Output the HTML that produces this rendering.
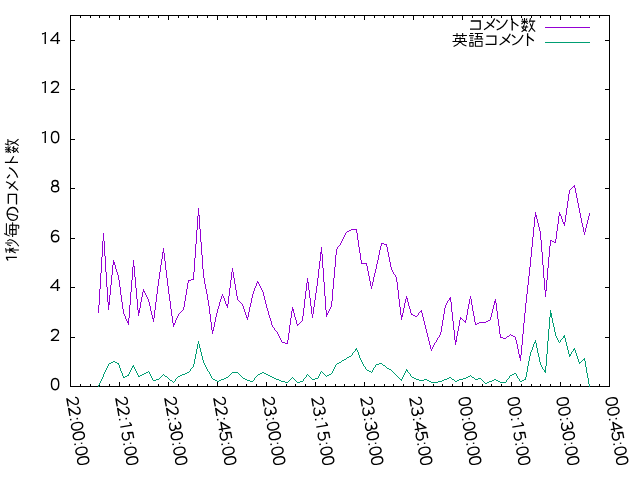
<!DOCTYPE html>
<html><head><meta charset="utf-8"><title>plot</title>
<style>
html,body{margin:0;padding:0;background:#fff;}
body{width:640px;height:480px;overflow:hidden;font-family:"Liberation Sans",sans-serif;}
svg{display:block;will-change:transform;}
text{font-family:"Liberation Sans",sans-serif;fill:#000;}
</style></head><body>
<svg width="640" height="480" viewBox="0 0 640 480">
<rect x="0" y="0" width="640" height="480" fill="#ffffff"/>

<g shape-rendering="crispEdges" stroke="#000" stroke-width="1" fill="none">
<rect x="70.5" y="15.5" width="539" height="371"/>
<path d="M80.5,387V384 M80.5,15V18 M90.5,387V384 M90.5,15V18 M99.5,387V384 M99.5,15V18 M109.5,387V384 M109.5,15V18 M119.5,387V382 M119.5,15V20 M129.5,387V384 M129.5,15V18 M139.5,387V384 M139.5,15V18 M148.5,387V384 M148.5,15V18 M158.5,387V384 M158.5,15V18 M168.5,387V382 M168.5,15V20 M178.5,387V384 M178.5,15V18 M188.5,387V384 M188.5,15V18 M197.5,387V384 M197.5,15V18 M207.5,387V384 M207.5,15V18 M217.5,387V382 M217.5,15V20 M227.5,387V384 M227.5,15V18 M237.5,387V384 M237.5,15V18 M246.5,387V384 M246.5,15V18 M256.5,387V384 M256.5,15V18 M266.5,387V382 M266.5,15V20 M276.5,387V384 M276.5,15V18 M286.5,387V384 M286.5,15V18 M295.5,387V384 M295.5,15V18 M305.5,387V384 M305.5,15V18 M315.5,387V382 M315.5,15V20 M325.5,387V384 M325.5,15V18 M335.5,387V384 M335.5,15V18 M344.5,387V384 M344.5,15V18 M354.5,387V384 M354.5,15V18 M364.5,387V382 M364.5,15V20 M374.5,387V384 M374.5,15V18 M384.5,387V384 M384.5,15V18 M393.5,387V384 M393.5,15V18 M403.5,387V384 M403.5,15V18 M413.5,387V382 M413.5,15V20 M423.5,387V384 M423.5,15V18 M433.5,387V384 M433.5,15V18 M442.5,387V384 M442.5,15V18 M452.5,387V384 M452.5,15V18 M462.5,387V382 M462.5,15V20 M472.5,387V384 M472.5,15V18 M482.5,387V384 M482.5,15V18 M491.5,387V384 M491.5,15V18 M501.5,387V384 M501.5,15V18 M511.5,387V382 M511.5,15V20 M521.5,387V384 M521.5,15V18 M531.5,387V384 M531.5,15V18 M540.5,387V384 M540.5,15V18 M550.5,387V384 M550.5,15V18 M560.5,387V382 M560.5,15V20 M570.5,387V384 M570.5,15V18 M580.5,387V384 M580.5,15V18 M589.5,387V384 M589.5,15V18 M599.5,387V384 M599.5,15V18 M70,337.5H75 M610,337.5H605 M70,287.5H75 M610,287.5H605 M70,238.5H75 M610,238.5H605 M70,188.5H75 M610,188.5H605 M70,139.5H75 M610,139.5H605 M70,89.5H75 M610,89.5H605 M70,40.5H75 M610,40.5H605"/>
</g>
<g shape-rendering="crispEdges" fill="none" stroke-width="1">
<path stroke="none" fill="#9400d3" d="M98 305h1v8h-1zM99 289h1v16h-1zM100 273h1v16h-1zM101 257h1v16h-1zM102 241h1v16h-1zM103 233h1v8h-1zM104 241h1v15h-1zM105 256h1v16h-1zM106 272h1v15h-1zM107 287h1v15h-1zM108 302h1v8h-1zM109 295h1v10h-1zM110 285h1v10h-1zM111 275h1v10h-1zM112 265h1v10h-1zM113 260h1v5h-1zM114 262h1v3h-1zM115 265h1v4h-1zM116 269h1v3h-1zM117 272h1v3h-1zM118 275h1v5h-1zM119 280h1v7h-1zM120 287h1v8h-1zM121 295h1v7h-1zM122 302h1v7h-1zM123 309h1v5h-1zM124 314h1v2h-1zM125 316h1v3h-1zM126 319h1v2h-1zM127 321h1v2h-1zM128 318h1v7h-1zM129 305h1v13h-1zM130 292h1v13h-1zM131 280h1v12h-1zM132 267h1v13h-1zM133 260h1v7h-1zM134 266h1v11h-1zM135 277h1v11h-1zM136 288h1v11h-1zM137 299h1v11h-1zM138 310h1v6h-1zM139 308h1v5h-1zM140 302h1v6h-1zM141 297h1v5h-1zM142 292h1v5h-1zM143 289h1v3h-1zM144 291h1v2h-1zM145 293h1v2h-1zM146 295h1v2h-1zM147 297h1v2h-1zM148 299h1v3h-1zM149 302h1v4h-1zM150 306h1v5h-1zM151 311h1v4h-1zM152 315h1v4h-1zM153 318h1v4h-1zM154 310h1v8h-1zM155 302h1v8h-1zM156 294h1v8h-1zM157 286h1v8h-1zM158 279h1v7h-1zM159 272h1v7h-1zM160 265h1v7h-1zM161 259h1v6h-1zM162 252h1v7h-1zM163 248h1v5h-1zM164 253h1v8h-1zM165 261h1v9h-1zM166 270h1v8h-1zM167 278h1v8h-1zM168 286h1v8h-1zM169 294h1v7h-1zM170 301h1v8h-1zM171 309h1v7h-1zM172 316h1v7h-1zM173 323h1v4h-1zM174 323h1v2h-1zM175 320h1v3h-1zM176 318h1v2h-1zM177 316h1v2h-1zM178 314h1v2h-1zM179 313h1v1h-1zM180 312h1v1h-1zM181 311h1v1h-1zM182 310h1v1h-1zM183 307h1v3h-1zM184 301h1v6h-1zM185 295h1v6h-1zM186 289h1v6h-1zM187 283h1v6h-1zM188 280h1v3h-1zM189 280h1v1h-1zM190 280h1v1h-1zM191 279h1v1h-1zM192 279h1v1h-1zM193 272h1v8h-1zM194 258h1v14h-1zM195 244h1v14h-1zM196 230h1v14h-1zM197 216h1v14h-1zM198 208h1v8h-1zM199 215h1v14h-1zM200 229h1v13h-1zM201 242h1v13h-1zM202 255h1v14h-1zM203 269h1v9h-1zM204 278h1v6h-1zM205 284h1v5h-1zM206 289h1v5h-1zM207 294h1v6h-1zM208 300h1v6h-1zM209 306h1v8h-1zM210 314h1v8h-1zM211 322h1v8h-1zM212 330h1v4h-1zM213 327h1v4h-1zM214 322h1v5h-1zM215 317h1v5h-1zM216 313h1v4h-1zM217 309h1v4h-1zM218 306h1v3h-1zM219 302h1v4h-1zM220 299h1v3h-1zM221 296h1v3h-1zM222 294h1v2h-1zM223 296h1v2h-1zM224 298h1v3h-1zM225 301h1v3h-1zM226 304h1v2h-1zM227 304h1v4h-1zM228 296h1v8h-1zM229 288h1v8h-1zM230 280h1v8h-1zM231 272h1v8h-1zM232 268h1v4h-1zM233 272h1v6h-1zM234 278h1v6h-1zM235 284h1v6h-1zM236 290h1v6h-1zM237 296h1v4h-1zM238 300h1v1h-1zM239 301h1v1h-1zM240 302h1v1h-1zM241 303h1v1h-1zM242 304h1v2h-1zM243 306h1v3h-1zM244 309h1v3h-1zM245 312h1v3h-1zM246 315h1v3h-1zM247 317h1v3h-1zM248 312h1v5h-1zM249 307h1v5h-1zM250 303h1v4h-1zM251 298h1v5h-1zM252 294h1v4h-1zM253 291h1v3h-1zM254 288h1v3h-1zM255 286h1v2h-1zM256 283h1v3h-1zM257 281h1v2h-1zM258 282h1v2h-1zM259 284h1v2h-1zM260 286h1v2h-1zM261 288h1v2h-1zM262 290h1v2h-1zM263 292h1v4h-1zM264 296h1v4h-1zM265 300h1v4h-1zM266 304h1v4h-1zM267 308h1v3h-1zM268 311h1v4h-1zM269 315h1v3h-1zM270 318h1v3h-1zM271 321h1v4h-1zM272 325h1v2h-1zM273 327h1v1h-1zM274 328h1v2h-1zM275 330h1v1h-1zM276 331h1v1h-1zM277 332h1v2h-1zM278 334h1v2h-1zM279 336h1v2h-1zM280 338h1v2h-1zM281 340h1v2h-1zM282 342h1v1h-1zM283 342h1v1h-1zM284 342h1v1h-1zM285 343h1v1h-1zM286 343h1v1h-1zM287 340h1v4h-1zM288 333h1v7h-1zM289 325h1v8h-1zM290 318h1v7h-1zM291 311h1v7h-1zM292 307h1v4h-1zM293 309h1v4h-1zM294 313h1v4h-1zM295 317h1v3h-1zM296 320h1v4h-1zM297 324h1v2h-1zM298 324h1v1h-1zM299 323h1v1h-1zM300 322h1v1h-1zM301 321h1v1h-1zM302 316h1v5h-1zM303 308h1v8h-1zM304 299h1v9h-1zM305 291h1v8h-1zM306 283h1v8h-1zM307 278h1v5h-1zM308 282h1v8h-1zM309 290h1v8h-1zM310 298h1v8h-1zM311 306h1v8h-1zM312 314h1v4h-1zM313 307h1v7h-1zM314 300h1v7h-1zM315 293h1v7h-1zM316 286h1v7h-1zM317 278h1v8h-1zM318 269h1v9h-1zM319 261h1v8h-1zM320 252h1v9h-1zM321 247h1v7h-1zM322 254h1v14h-1zM323 268h1v14h-1zM324 282h1v14h-1zM325 296h1v14h-1zM326 310h1v7h-1zM327 313h1v2h-1zM328 311h1v2h-1zM329 309h1v2h-1zM330 307h1v2h-1zM331 301h1v6h-1zM332 289h1v12h-1zM333 278h1v11h-1zM334 267h1v11h-1zM335 255h1v12h-1zM336 249h1v6h-1zM337 247h1v2h-1zM338 246h1v1h-1zM339 245h1v1h-1zM340 243h1v2h-1zM341 241h1v2h-1zM342 239h1v2h-1zM343 237h1v2h-1zM344 235h1v2h-1zM345 233h1v2h-1zM346 232h1v1h-1zM347 231h1v1h-1zM348 231h1v1h-1zM349 230h1v1h-1zM350 230h1v1h-1zM351 229h1v1h-1zM352 229h1v1h-1zM353 229h1v1h-1zM354 229h1v1h-1zM355 229h1v1h-1zM356 229h1v4h-1zM357 233h1v7h-1zM358 240h1v7h-1zM359 247h1v6h-1zM360 253h1v7h-1zM361 260h1v4h-1zM362 263h1v1h-1zM363 263h1v1h-1zM364 263h1v1h-1zM365 263h1v1h-1zM366 263h1v3h-1zM367 266h1v5h-1zM368 271h1v5h-1zM369 276h1v5h-1zM370 281h1v5h-1zM371 286h1v3h-1zM372 282h1v4h-1zM373 277h1v5h-1zM374 273h1v4h-1zM375 269h1v4h-1zM376 264h1v5h-1zM377 260h1v4h-1zM378 255h1v5h-1zM379 250h1v5h-1zM380 246h1v4h-1zM381 243h1v3h-1zM382 243h1v1h-1zM383 243h1v1h-1zM384 244h1v1h-1zM385 244h1v1h-1zM386 244h1v3h-1zM387 247h1v5h-1zM388 252h1v5h-1zM389 257h1v5h-1zM390 262h1v5h-1zM391 267h1v3h-1zM392 270h1v2h-1zM393 272h1v2h-1zM394 274h1v1h-1zM395 275h1v2h-1zM396 277h1v5h-1zM397 282h1v8h-1zM398 290h1v9h-1zM399 299h1v8h-1zM400 307h1v8h-1zM401 315h1v5h-1zM402 313h1v4h-1zM403 308h1v5h-1zM404 303h1v5h-1zM405 299h1v4h-1zM406 296h1v3h-1zM407 298h1v4h-1zM408 302h1v4h-1zM409 306h1v3h-1zM410 309h1v4h-1zM411 313h1v2h-1zM412 314h1v1h-1zM413 315h1v1h-1zM414 315h1v1h-1zM415 316h1v1h-1zM416 316h1v1h-1zM417 315h1v1h-1zM418 313h1v2h-1zM419 312h1v1h-1zM420 311h1v1h-1zM421 310h1v3h-1zM422 313h1v4h-1zM423 317h1v4h-1zM424 321h1v4h-1zM425 325h1v4h-1zM426 329h1v4h-1zM427 333h1v4h-1zM428 337h1v4h-1zM429 341h1v4h-1zM430 345h1v4h-1zM431 349h1v2h-1zM432 347h1v2h-1zM433 345h1v2h-1zM434 343h1v2h-1zM435 342h1v1h-1zM436 340h1v2h-1zM437 338h1v2h-1zM438 337h1v1h-1zM439 335h1v2h-1zM440 332h1v3h-1zM441 326h1v6h-1zM442 320h1v6h-1zM443 314h1v6h-1zM444 308h1v6h-1zM445 305h1v3h-1zM446 303h1v2h-1zM447 301h1v2h-1zM448 300h1v1h-1zM449 298h1v2h-1zM450 297h1v5h-1zM451 302h1v10h-1zM452 312h1v9h-1zM453 321h1v9h-1zM454 330h1v10h-1zM455 340h1v5h-1zM456 336h1v6h-1zM457 331h1v5h-1zM458 326h1v5h-1zM459 320h1v6h-1zM460 317h1v3h-1zM461 318h1v1h-1zM462 319h1v1h-1zM463 320h1v1h-1zM464 321h1v1h-1zM465 320h1v3h-1zM466 315h1v5h-1zM467 309h1v6h-1zM468 304h1v5h-1zM469 299h1v5h-1zM470 296h1v3h-1zM471 299h1v6h-1zM472 305h1v6h-1zM473 311h1v5h-1zM474 316h1v6h-1zM475 322h1v3h-1zM476 324h1v1h-1zM477 323h1v1h-1zM478 323h1v1h-1zM479 322h1v1h-1zM480 322h1v1h-1zM481 322h1v1h-1zM482 322h1v1h-1zM483 322h1v1h-1zM484 322h1v1h-1zM485 322h1v1h-1zM486 321h1v1h-1zM487 321h1v1h-1zM488 320h1v1h-1zM489 320h1v1h-1zM490 317h1v3h-1zM491 313h1v4h-1zM492 309h1v4h-1zM493 305h1v4h-1zM494 301h1v4h-1zM495 299h1v4h-1zM496 303h1v8h-1zM497 311h1v8h-1zM498 319h1v7h-1zM499 326h1v8h-1zM500 334h1v4h-1zM501 337h1v1h-1zM502 337h1v1h-1zM503 338h1v1h-1zM504 338h1v1h-1zM505 338h1v1h-1zM506 337h1v1h-1zM507 336h1v1h-1zM508 336h1v1h-1zM509 335h1v1h-1zM510 334h1v1h-1zM511 335h1v1h-1zM512 335h1v1h-1zM513 336h1v1h-1zM514 336h1v1h-1zM515 337h1v3h-1zM516 340h1v4h-1zM517 344h1v5h-1zM518 349h1v5h-1zM519 354h1v4h-1zM520 355h1v6h-1zM521 345h1v10h-1zM522 334h1v11h-1zM523 323h1v11h-1zM524 313h1v10h-1zM525 303h1v10h-1zM526 294h1v9h-1zM527 285h1v9h-1zM528 276h1v9h-1zM529 267h1v9h-1zM530 257h1v10h-1zM531 247h1v10h-1zM532 237h1v10h-1zM533 227h1v10h-1zM534 217h1v10h-1zM535 212h1v5h-1zM536 215h1v4h-1zM537 219h1v4h-1zM538 223h1v4h-1zM539 227h1v4h-1zM540 231h1v9h-1zM541 240h1v12h-1zM542 252h1v13h-1zM543 265h1v13h-1zM544 278h1v12h-1zM545 290h1v7h-1zM546 280h1v11h-1zM547 268h1v12h-1zM548 257h1v11h-1zM549 246h1v11h-1zM550 240h1v6h-1zM551 240h1v1h-1zM552 241h1v1h-1zM553 241h1v1h-1zM554 242h1v1h-1zM555 239h1v4h-1zM556 231h1v8h-1zM557 224h1v7h-1zM558 216h1v8h-1zM559 212h1v4h-1zM560 214h1v2h-1zM561 216h1v3h-1zM562 219h1v3h-1zM563 222h1v2h-1zM564 222h1v4h-1zM565 215h1v7h-1zM566 208h1v7h-1zM567 201h1v7h-1zM568 194h1v7h-1zM569 190h1v4h-1zM570 189h1v1h-1zM571 188h1v1h-1zM572 187h1v1h-1zM573 186h1v1h-1zM574 185h1v3h-1zM575 188h1v5h-1zM576 193h1v5h-1zM577 198h1v5h-1zM578 203h1v5h-1zM579 208h1v5h-1zM580 213h1v5h-1zM581 218h1v5h-1zM582 223h1v4h-1zM583 227h1v5h-1zM584 232h1v3h-1zM585 228h1v4h-1zM586 224h1v4h-1zM587 220h1v4h-1zM588 216h1v4h-1zM589 213h1v3h-1z"/>
<path stroke="none" fill="#009e73" d="M98 385h1v2h-1zM99 383h1v2h-1zM100 381h1v2h-1zM101 379h1v2h-1zM102 377h1v2h-1zM103 374h1v3h-1zM104 372h1v2h-1zM105 370h1v2h-1zM106 368h1v2h-1zM107 366h1v2h-1zM108 364h1v2h-1zM109 363h1v1h-1zM110 363h1v1h-1zM111 362h1v1h-1zM112 362h1v1h-1zM113 361h1v1h-1zM114 361h1v1h-1zM115 362h1v1h-1zM116 362h1v1h-1zM117 363h1v1h-1zM118 363h1v2h-1zM119 365h1v3h-1zM120 368h1v3h-1zM121 371h1v2h-1zM122 373h1v3h-1zM123 376h1v2h-1zM124 377h1v1h-1zM125 376h1v1h-1zM126 376h1v1h-1zM127 375h1v1h-1zM128 374h1v2h-1zM129 372h1v2h-1zM130 370h1v2h-1zM131 368h1v2h-1zM132 366h1v2h-1zM133 365h1v2h-1zM134 367h1v2h-1zM135 369h1v2h-1zM136 371h1v2h-1zM137 373h1v2h-1zM138 375h1v2h-1zM139 376h1v1h-1zM140 375h1v1h-1zM141 375h1v1h-1zM142 374h1v1h-1zM143 374h1v1h-1zM144 373h1v1h-1zM145 373h1v1h-1zM146 372h1v1h-1zM147 372h1v1h-1zM148 371h1v1h-1zM149 372h1v2h-1zM150 374h1v2h-1zM151 376h1v2h-1zM152 378h1v2h-1zM153 380h1v1h-1zM154 380h1v1h-1zM155 380h1v1h-1zM156 379h1v1h-1zM157 379h1v1h-1zM158 379h1v1h-1zM159 378h1v1h-1zM160 377h1v1h-1zM161 376h1v1h-1zM162 375h1v1h-1zM163 374h1v1h-1zM164 375h1v1h-1zM165 376h1v1h-1zM166 376h1v1h-1zM167 377h1v1h-1zM168 378h1v1h-1zM169 379h1v1h-1zM170 380h1v1h-1zM171 380h1v1h-1zM172 381h1v1h-1zM173 382h1v1h-1zM174 381h1v1h-1zM175 379h1v2h-1zM176 378h1v1h-1zM177 377h1v1h-1zM178 376h1v1h-1zM179 376h1v1h-1zM180 375h1v1h-1zM181 375h1v1h-1zM182 374h1v1h-1zM183 374h1v1h-1zM184 374h1v1h-1zM185 373h1v1h-1zM186 373h1v1h-1zM187 372h1v1h-1zM188 372h1v1h-1zM189 371h1v1h-1zM190 369h1v2h-1zM191 368h1v1h-1zM192 367h1v1h-1zM193 364h1v3h-1zM194 359h1v5h-1zM195 354h1v5h-1zM196 349h1v5h-1zM197 344h1v5h-1zM198 341h1v3h-1zM199 344h1v4h-1zM200 348h1v4h-1zM201 352h1v4h-1zM202 356h1v4h-1zM203 360h1v3h-1zM204 363h1v2h-1zM205 365h1v2h-1zM206 367h1v2h-1zM207 369h1v2h-1zM208 371h1v1h-1zM209 372h1v2h-1zM210 374h1v2h-1zM211 376h1v2h-1zM212 378h1v1h-1zM213 379h1v1h-1zM214 379h1v1h-1zM215 380h1v1h-1zM216 380h1v1h-1zM217 381h1v1h-1zM218 381h1v1h-1zM219 380h1v1h-1zM220 380h1v1h-1zM221 379h1v1h-1zM222 379h1v1h-1zM223 379h1v1h-1zM224 378h1v1h-1zM225 378h1v1h-1zM226 377h1v1h-1zM227 377h1v1h-1zM228 376h1v1h-1zM229 375h1v1h-1zM230 374h1v1h-1zM231 373h1v1h-1zM232 372h1v1h-1zM233 372h1v1h-1zM234 372h1v1h-1zM235 372h1v1h-1zM236 372h1v1h-1zM237 372h1v1h-1zM238 373h1v1h-1zM239 374h1v1h-1zM240 375h1v1h-1zM241 376h1v1h-1zM242 377h1v1h-1zM243 378h1v1h-1zM244 378h1v1h-1zM245 379h1v1h-1zM246 379h1v1h-1zM247 380h1v1h-1zM248 380h1v1h-1zM249 380h1v1h-1zM250 381h1v1h-1zM251 381h1v1h-1zM252 381h1v1h-1zM253 380h1v1h-1zM254 378h1v2h-1zM255 377h1v1h-1zM256 376h1v1h-1zM257 375h1v1h-1zM258 374h1v1h-1zM259 374h1v1h-1zM260 373h1v1h-1zM261 373h1v1h-1zM262 372h1v1h-1zM263 372h1v1h-1zM264 373h1v1h-1zM265 373h1v1h-1zM266 374h1v1h-1zM267 374h1v1h-1zM268 375h1v1h-1zM269 375h1v1h-1zM270 376h1v1h-1zM271 376h1v1h-1zM272 377h1v1h-1zM273 377h1v1h-1zM274 378h1v1h-1zM275 378h1v1h-1zM276 379h1v1h-1zM277 379h1v1h-1zM278 379h1v1h-1zM279 380h1v1h-1zM280 380h1v1h-1zM281 381h1v1h-1zM282 381h1v1h-1zM283 381h1v1h-1zM284 381h1v1h-1zM285 382h1v1h-1zM286 382h1v1h-1zM287 382h1v1h-1zM288 381h1v1h-1zM289 380h1v1h-1zM290 379h1v1h-1zM291 378h1v1h-1zM292 377h1v1h-1zM293 378h1v1h-1zM294 379h1v1h-1zM295 380h1v1h-1zM296 381h1v1h-1zM297 382h1v1h-1zM298 382h1v1h-1zM299 382h1v1h-1zM300 381h1v1h-1zM301 381h1v1h-1zM302 381h1v1h-1zM303 379h1v2h-1zM304 378h1v1h-1zM305 377h1v1h-1zM306 375h1v2h-1zM307 374h1v1h-1zM308 375h1v1h-1zM309 376h1v1h-1zM310 377h1v1h-1zM311 378h1v1h-1zM312 379h1v1h-1zM313 379h1v1h-1zM314 379h1v1h-1zM315 378h1v1h-1zM316 378h1v1h-1zM317 378h1v1h-1zM318 376h1v2h-1zM319 374h1v2h-1zM320 372h1v2h-1zM321 371h1v1h-1zM322 372h1v1h-1zM323 373h1v1h-1zM324 374h1v1h-1zM325 375h1v1h-1zM326 376h1v1h-1zM327 375h1v1h-1zM328 375h1v1h-1zM329 374h1v1h-1zM330 374h1v1h-1zM331 373h1v1h-1zM332 371h1v2h-1zM333 369h1v2h-1zM334 367h1v2h-1zM335 365h1v2h-1zM336 364h1v1h-1zM337 363h1v1h-1zM338 363h1v1h-1zM339 362h1v1h-1zM340 362h1v1h-1zM341 361h1v1h-1zM342 360h1v1h-1zM343 360h1v1h-1zM344 359h1v1h-1zM345 359h1v1h-1zM346 358h1v1h-1zM347 357h1v1h-1zM348 357h1v1h-1zM349 356h1v1h-1zM350 356h1v1h-1zM351 355h1v1h-1zM352 353h1v2h-1zM353 352h1v1h-1zM354 351h1v1h-1zM355 349h1v2h-1zM356 348h1v2h-1zM357 350h1v2h-1zM358 352h1v3h-1zM359 355h1v3h-1zM360 358h1v2h-1zM361 360h1v2h-1zM362 362h1v2h-1zM363 364h1v2h-1zM364 366h1v1h-1zM365 367h1v2h-1zM366 369h1v1h-1zM367 370h1v1h-1zM368 370h1v1h-1zM369 371h1v1h-1zM370 371h1v1h-1zM371 372h1v1h-1zM372 370h1v2h-1zM373 368h1v2h-1zM374 367h1v1h-1zM375 365h1v2h-1zM376 364h1v1h-1zM377 364h1v1h-1zM378 364h1v1h-1zM379 363h1v1h-1zM380 363h1v1h-1zM381 363h1v1h-1zM382 364h1v1h-1zM383 365h1v1h-1zM384 365h1v1h-1zM385 366h1v1h-1zM386 367h1v1h-1zM387 368h1v1h-1zM388 368h1v1h-1zM389 369h1v1h-1zM390 369h1v1h-1zM391 370h1v1h-1zM392 371h1v1h-1zM393 372h1v1h-1zM394 373h1v1h-1zM395 374h1v1h-1zM396 375h1v1h-1zM397 376h1v1h-1zM398 377h1v1h-1zM399 378h1v1h-1zM400 379h1v1h-1zM401 379h1v2h-1zM402 377h1v2h-1zM403 375h1v2h-1zM404 373h1v2h-1zM405 371h1v2h-1zM406 369h1v2h-1zM407 370h1v2h-1zM408 372h1v1h-1zM409 373h1v1h-1zM410 374h1v2h-1zM411 376h1v1h-1zM412 377h1v1h-1zM413 377h1v1h-1zM414 378h1v1h-1zM415 378h1v1h-1zM416 379h1v1h-1zM417 379h1v1h-1zM418 379h1v1h-1zM419 380h1v1h-1zM420 380h1v1h-1zM421 380h1v1h-1zM422 380h1v1h-1zM423 380h1v1h-1zM424 379h1v1h-1zM425 379h1v1h-1zM426 379h1v1h-1zM427 380h1v1h-1zM428 380h1v1h-1zM429 381h1v1h-1zM430 381h1v1h-1zM431 382h1v1h-1zM432 382h1v1h-1zM433 382h1v1h-1zM434 382h1v1h-1zM435 382h1v1h-1zM436 382h1v1h-1zM437 382h1v1h-1zM438 381h1v1h-1zM439 381h1v1h-1zM440 381h1v1h-1zM441 381h1v1h-1zM442 380h1v1h-1zM443 380h1v1h-1zM444 379h1v1h-1zM445 379h1v1h-1zM446 379h1v1h-1zM447 378h1v1h-1zM448 378h1v1h-1zM449 377h1v1h-1zM450 377h1v1h-1zM451 378h1v1h-1zM452 379h1v1h-1zM453 379h1v1h-1zM454 380h1v1h-1zM455 381h1v1h-1zM456 381h1v1h-1zM457 380h1v1h-1zM458 380h1v1h-1zM459 379h1v1h-1zM460 379h1v1h-1zM461 379h1v1h-1zM462 379h1v1h-1zM463 378h1v1h-1zM464 378h1v1h-1zM465 378h1v1h-1zM466 377h1v1h-1zM467 377h1v1h-1zM468 376h1v1h-1zM469 376h1v1h-1zM470 375h1v1h-1zM471 376h1v1h-1zM472 377h1v1h-1zM473 377h1v1h-1zM474 378h1v1h-1zM475 379h1v1h-1zM476 379h1v1h-1zM477 379h1v1h-1zM478 378h1v1h-1zM479 378h1v1h-1zM480 378h1v1h-1zM481 379h1v1h-1zM482 380h1v1h-1zM483 381h1v1h-1zM484 382h1v1h-1zM485 383h1v1h-1zM486 383h1v1h-1zM487 382h1v1h-1zM488 382h1v1h-1zM489 381h1v1h-1zM490 381h1v1h-1zM491 381h1v1h-1zM492 380h1v1h-1zM493 380h1v1h-1zM494 379h1v1h-1zM495 379h1v1h-1zM496 380h1v1h-1zM497 380h1v1h-1zM498 381h1v1h-1zM499 381h1v1h-1zM500 382h1v1h-1zM501 382h1v1h-1zM502 382h1v1h-1zM503 382h1v1h-1zM504 382h1v1h-1zM505 382h1v1h-1zM506 380h1v2h-1zM507 379h1v1h-1zM508 378h1v1h-1zM509 376h1v2h-1zM510 375h1v1h-1zM511 375h1v1h-1zM512 374h1v1h-1zM513 374h1v1h-1zM514 373h1v1h-1zM515 373h1v1h-1zM516 374h1v2h-1zM517 376h1v2h-1zM518 378h1v1h-1zM519 379h1v2h-1zM520 381h1v1h-1zM521 381h1v1h-1zM522 380h1v1h-1zM523 380h1v1h-1zM524 379h1v1h-1zM525 377h1v3h-1zM526 372h1v5h-1zM527 366h1v6h-1zM528 361h1v5h-1zM529 356h1v5h-1zM530 352h1v4h-1zM531 350h1v2h-1zM532 347h1v3h-1zM533 344h1v3h-1zM534 342h1v2h-1zM535 340h1v3h-1zM536 343h1v5h-1zM537 348h1v5h-1zM538 353h1v4h-1zM539 357h1v5h-1zM540 362h1v3h-1zM541 365h1v2h-1zM542 367h1v2h-1zM543 369h1v1h-1zM544 370h1v2h-1zM545 366h1v7h-1zM546 354h1v12h-1zM547 341h1v13h-1zM548 329h1v12h-1zM549 317h1v12h-1zM550 310h1v7h-1zM551 313h1v5h-1zM552 318h1v5h-1zM553 323h1v4h-1zM554 327h1v5h-1zM555 332h1v4h-1zM556 336h1v2h-1zM557 338h1v2h-1zM558 340h1v2h-1zM559 342h1v1h-1zM560 340h1v2h-1zM561 339h1v1h-1zM562 338h1v1h-1zM563 336h1v2h-1zM564 335h1v3h-1zM565 338h1v4h-1zM566 342h1v4h-1zM567 346h1v4h-1zM568 350h1v4h-1zM569 354h1v3h-1zM570 354h1v2h-1zM571 352h1v2h-1zM572 351h1v1h-1zM573 349h1v2h-1zM574 348h1v2h-1zM575 350h1v3h-1zM576 353h1v3h-1zM577 356h1v3h-1zM578 359h1v3h-1zM579 362h1v2h-1zM580 362h1v1h-1zM581 361h1v1h-1zM582 360h1v1h-1zM583 359h1v1h-1zM584 358h1v3h-1zM585 361h1v6h-1zM586 367h1v6h-1zM587 373h1v5h-1zM588 378h1v6h-1zM589 384h1v3h-1z"/>
<path stroke="#9400d3" d="M545,27.5H590"/>
<path stroke="#009e73" d="M545,42.5H590"/>
</g>
<g transform="translate(60.00,390.00)"><g fill="none" stroke="#000" stroke-width="1.38" stroke-linejoin="round"><path transform="translate(-9.80,0)" d="M4.9,-11.55C2.3,-11.55 1.25,-9 1.25,-5.9C1.25,-2.8 2.3,-0.25 4.9,-0.25C7.5,-0.25 8.55,-2.8 8.55,-5.9C8.55,-9 7.5,-11.55 4.9,-11.55Z"/></g><g fill="#000" stroke="none"></g></g>
<g transform="translate(60.00,341.00)"><g fill="none" stroke="#000" stroke-width="1.38" stroke-linejoin="round"><path transform="translate(-9.80,0)" d="M1.3,-8.9C1.5,-10.6 2.9,-11.55 4.8,-11.55C6.9,-11.55 8.3,-10.4 8.3,-8.6C8.3,-6.6 6.6,-5.2 1.2,-0.65H8.9"/></g><g fill="#000" stroke="none"></g></g>
<g transform="translate(60.00,291.00)"><g fill="none" stroke="#000" stroke-width="1.38" stroke-linejoin="round"><path transform="translate(-9.80,0)" d="M7.35,0V-11.9 M7.6,-11.6L0.5,-3.4H9.85"/></g><g fill="#000" stroke="none"></g></g>
<g transform="translate(60.00,242.00)"><g fill="none" stroke="#000" stroke-width="1.38" stroke-linejoin="round"><path transform="translate(-9.80,0)" d="M8.4,-10.2C7.7,-11.1 6.7,-11.55 5.4,-11.55C2.6,-11.55 1.25,-9 1.25,-5.3C1.25,-2 2.6,-0.25 5,-0.25C7.2,-0.25 8.6,-1.7 8.6,-3.7C8.6,-5.8 7.2,-7.1 5.1,-7.1C3.1,-7.1 1.6,-5.8 1.3,-4"/></g><g fill="#000" stroke="none"></g></g>
<g transform="translate(60.00,192.00)"><g fill="none" stroke="#000" stroke-width="1.38" stroke-linejoin="round"><path transform="translate(-9.80,0)" d="M4.9,-11.55C3,-11.55 1.9,-10.4 1.9,-8.9C1.9,-7.4 3,-6.3 4.9,-6.3C6.8,-6.3 7.9,-7.4 7.9,-8.9C7.9,-10.4 6.8,-11.55 4.9,-11.55Z M4.9,-6.3C2.7,-6.3 1.3,-5.1 1.3,-3.3C1.3,-1.5 2.7,-0.25 4.9,-0.25C7.1,-0.25 8.5,-1.5 8.5,-3.3C8.5,-5.1 7.1,-6.3 4.9,-6.3Z"/></g><g fill="#000" stroke="none"></g></g>
<g transform="translate(60.00,143.00)"><g fill="none" stroke="#000" stroke-width="1.38" stroke-linejoin="round"><path transform="translate(-19.60,0)" d="M1.7,-9.85L4.85,-11.5 M4.85,-11.9V0"/><path transform="translate(-9.80,0)" d="M4.9,-11.55C2.3,-11.55 1.25,-9 1.25,-5.9C1.25,-2.8 2.3,-0.25 4.9,-0.25C7.5,-0.25 8.55,-2.8 8.55,-5.9C8.55,-9 7.5,-11.55 4.9,-11.55Z"/></g><g fill="#000" stroke="none"></g></g>
<g transform="translate(60.00,93.00)"><g fill="none" stroke="#000" stroke-width="1.38" stroke-linejoin="round"><path transform="translate(-19.60,0)" d="M1.7,-9.85L4.85,-11.5 M4.85,-11.9V0"/><path transform="translate(-9.80,0)" d="M1.3,-8.9C1.5,-10.6 2.9,-11.55 4.8,-11.55C6.9,-11.55 8.3,-10.4 8.3,-8.6C8.3,-6.6 6.6,-5.2 1.2,-0.65H8.9"/></g><g fill="#000" stroke="none"></g></g>
<g transform="translate(60.00,44.00)"><g fill="none" stroke="#000" stroke-width="1.38" stroke-linejoin="round"><path transform="translate(-19.60,0)" d="M1.7,-9.85L4.85,-11.5 M4.85,-11.9V0"/><path transform="translate(-9.80,0)" d="M7.35,0V-11.9 M7.6,-11.6L0.5,-3.4H9.85"/></g><g fill="#000" stroke="none"></g></g>
<g transform="translate(66.10,397.70) rotate(80)"><g fill="none" stroke="#000" stroke-width="1.38" stroke-linejoin="round"><path transform="translate(0.00,0)" d="M1.3,-8.9C1.5,-10.6 2.9,-11.55 4.8,-11.55C6.9,-11.55 8.3,-10.4 8.3,-8.6C8.3,-6.6 6.6,-5.2 1.2,-0.65H8.9"/><path transform="translate(9.80,0)" d="M1.3,-8.9C1.5,-10.6 2.9,-11.55 4.8,-11.55C6.9,-11.55 8.3,-10.4 8.3,-8.6C8.3,-6.6 6.6,-5.2 1.2,-0.65H8.9"/><path transform="translate(25.10,0)" d="M4.9,-11.55C2.3,-11.55 1.25,-9 1.25,-5.9C1.25,-2.8 2.3,-0.25 4.9,-0.25C7.5,-0.25 8.55,-2.8 8.55,-5.9C8.55,-9 7.5,-11.55 4.9,-11.55Z"/><path transform="translate(34.90,0)" d="M4.9,-11.55C2.3,-11.55 1.25,-9 1.25,-5.9C1.25,-2.8 2.3,-0.25 4.9,-0.25C7.5,-0.25 8.55,-2.8 8.55,-5.9C8.55,-9 7.5,-11.55 4.9,-11.55Z"/><path transform="translate(50.20,0)" d="M4.9,-11.55C2.3,-11.55 1.25,-9 1.25,-5.9C1.25,-2.8 2.3,-0.25 4.9,-0.25C7.5,-0.25 8.55,-2.8 8.55,-5.9C8.55,-9 7.5,-11.55 4.9,-11.55Z"/><path transform="translate(60.00,0)" d="M4.9,-11.55C2.3,-11.55 1.25,-9 1.25,-5.9C1.25,-2.8 2.3,-0.25 4.9,-0.25C7.5,-0.25 8.55,-2.8 8.55,-5.9C8.55,-9 7.5,-11.55 4.9,-11.55Z"/></g><g fill="#000" stroke="none"><rect x="21.70" y="-8.1" width="1.5" height="1.5"/><rect x="21.70" y="-1.5" width="1.5" height="1.5"/><rect x="46.80" y="-8.1" width="1.5" height="1.5"/><rect x="46.80" y="-1.5" width="1.5" height="1.5"/></g></g>
<g transform="translate(115.10,397.70) rotate(80)"><g fill="none" stroke="#000" stroke-width="1.38" stroke-linejoin="round"><path transform="translate(0.00,0)" d="M1.3,-8.9C1.5,-10.6 2.9,-11.55 4.8,-11.55C6.9,-11.55 8.3,-10.4 8.3,-8.6C8.3,-6.6 6.6,-5.2 1.2,-0.65H8.9"/><path transform="translate(9.80,0)" d="M1.3,-8.9C1.5,-10.6 2.9,-11.55 4.8,-11.55C6.9,-11.55 8.3,-10.4 8.3,-8.6C8.3,-6.6 6.6,-5.2 1.2,-0.65H8.9"/><path transform="translate(25.10,0)" d="M1.7,-9.85L4.85,-11.5 M4.85,-11.9V0"/><path transform="translate(34.90,0)" d="M8.2,-11.25H2.4L1.8,-6.2C2.6,-6.9 3.7,-7.3 4.9,-7.3C7.2,-7.3 8.7,-5.9 8.7,-3.8C8.7,-1.6 7.2,-0.25 4.8,-0.25C3,-0.25 1.7,-0.9 0.9,-2.2"/><path transform="translate(50.20,0)" d="M4.9,-11.55C2.3,-11.55 1.25,-9 1.25,-5.9C1.25,-2.8 2.3,-0.25 4.9,-0.25C7.5,-0.25 8.55,-2.8 8.55,-5.9C8.55,-9 7.5,-11.55 4.9,-11.55Z"/><path transform="translate(60.00,0)" d="M4.9,-11.55C2.3,-11.55 1.25,-9 1.25,-5.9C1.25,-2.8 2.3,-0.25 4.9,-0.25C7.5,-0.25 8.55,-2.8 8.55,-5.9C8.55,-9 7.5,-11.55 4.9,-11.55Z"/></g><g fill="#000" stroke="none"><rect x="21.70" y="-8.1" width="1.5" height="1.5"/><rect x="21.70" y="-1.5" width="1.5" height="1.5"/><rect x="46.80" y="-8.1" width="1.5" height="1.5"/><rect x="46.80" y="-1.5" width="1.5" height="1.5"/></g></g>
<g transform="translate(164.10,397.70) rotate(80)"><g fill="none" stroke="#000" stroke-width="1.38" stroke-linejoin="round"><path transform="translate(0.00,0)" d="M1.3,-8.9C1.5,-10.6 2.9,-11.55 4.8,-11.55C6.9,-11.55 8.3,-10.4 8.3,-8.6C8.3,-6.6 6.6,-5.2 1.2,-0.65H8.9"/><path transform="translate(9.80,0)" d="M1.3,-8.9C1.5,-10.6 2.9,-11.55 4.8,-11.55C6.9,-11.55 8.3,-10.4 8.3,-8.6C8.3,-6.6 6.6,-5.2 1.2,-0.65H8.9"/><path transform="translate(25.10,0)" d="M1.3,-9.6C1.9,-10.9 3.1,-11.55 4.7,-11.55C6.8,-11.55 8.1,-10.5 8.1,-8.9C8.1,-7.2 6.8,-6.25 4.3,-6.25C7,-6.25 8.6,-5.1 8.6,-3.2C8.6,-1.3 7.1,-0.25 4.8,-0.25C2.9,-0.25 1.6,-1 0.9,-2.4"/><path transform="translate(34.90,0)" d="M4.9,-11.55C2.3,-11.55 1.25,-9 1.25,-5.9C1.25,-2.8 2.3,-0.25 4.9,-0.25C7.5,-0.25 8.55,-2.8 8.55,-5.9C8.55,-9 7.5,-11.55 4.9,-11.55Z"/><path transform="translate(50.20,0)" d="M4.9,-11.55C2.3,-11.55 1.25,-9 1.25,-5.9C1.25,-2.8 2.3,-0.25 4.9,-0.25C7.5,-0.25 8.55,-2.8 8.55,-5.9C8.55,-9 7.5,-11.55 4.9,-11.55Z"/><path transform="translate(60.00,0)" d="M4.9,-11.55C2.3,-11.55 1.25,-9 1.25,-5.9C1.25,-2.8 2.3,-0.25 4.9,-0.25C7.5,-0.25 8.55,-2.8 8.55,-5.9C8.55,-9 7.5,-11.55 4.9,-11.55Z"/></g><g fill="#000" stroke="none"><rect x="21.70" y="-8.1" width="1.5" height="1.5"/><rect x="21.70" y="-1.5" width="1.5" height="1.5"/><rect x="46.80" y="-8.1" width="1.5" height="1.5"/><rect x="46.80" y="-1.5" width="1.5" height="1.5"/></g></g>
<g transform="translate(213.10,397.70) rotate(80)"><g fill="none" stroke="#000" stroke-width="1.38" stroke-linejoin="round"><path transform="translate(0.00,0)" d="M1.3,-8.9C1.5,-10.6 2.9,-11.55 4.8,-11.55C6.9,-11.55 8.3,-10.4 8.3,-8.6C8.3,-6.6 6.6,-5.2 1.2,-0.65H8.9"/><path transform="translate(9.80,0)" d="M1.3,-8.9C1.5,-10.6 2.9,-11.55 4.8,-11.55C6.9,-11.55 8.3,-10.4 8.3,-8.6C8.3,-6.6 6.6,-5.2 1.2,-0.65H8.9"/><path transform="translate(25.10,0)" d="M7.35,0V-11.9 M7.6,-11.6L0.5,-3.4H9.85"/><path transform="translate(34.90,0)" d="M8.2,-11.25H2.4L1.8,-6.2C2.6,-6.9 3.7,-7.3 4.9,-7.3C7.2,-7.3 8.7,-5.9 8.7,-3.8C8.7,-1.6 7.2,-0.25 4.8,-0.25C3,-0.25 1.7,-0.9 0.9,-2.2"/><path transform="translate(50.20,0)" d="M4.9,-11.55C2.3,-11.55 1.25,-9 1.25,-5.9C1.25,-2.8 2.3,-0.25 4.9,-0.25C7.5,-0.25 8.55,-2.8 8.55,-5.9C8.55,-9 7.5,-11.55 4.9,-11.55Z"/><path transform="translate(60.00,0)" d="M4.9,-11.55C2.3,-11.55 1.25,-9 1.25,-5.9C1.25,-2.8 2.3,-0.25 4.9,-0.25C7.5,-0.25 8.55,-2.8 8.55,-5.9C8.55,-9 7.5,-11.55 4.9,-11.55Z"/></g><g fill="#000" stroke="none"><rect x="21.70" y="-8.1" width="1.5" height="1.5"/><rect x="21.70" y="-1.5" width="1.5" height="1.5"/><rect x="46.80" y="-8.1" width="1.5" height="1.5"/><rect x="46.80" y="-1.5" width="1.5" height="1.5"/></g></g>
<g transform="translate(262.10,397.70) rotate(80)"><g fill="none" stroke="#000" stroke-width="1.38" stroke-linejoin="round"><path transform="translate(0.00,0)" d="M1.3,-8.9C1.5,-10.6 2.9,-11.55 4.8,-11.55C6.9,-11.55 8.3,-10.4 8.3,-8.6C8.3,-6.6 6.6,-5.2 1.2,-0.65H8.9"/><path transform="translate(9.80,0)" d="M1.3,-9.6C1.9,-10.9 3.1,-11.55 4.7,-11.55C6.8,-11.55 8.1,-10.5 8.1,-8.9C8.1,-7.2 6.8,-6.25 4.3,-6.25C7,-6.25 8.6,-5.1 8.6,-3.2C8.6,-1.3 7.1,-0.25 4.8,-0.25C2.9,-0.25 1.6,-1 0.9,-2.4"/><path transform="translate(25.10,0)" d="M4.9,-11.55C2.3,-11.55 1.25,-9 1.25,-5.9C1.25,-2.8 2.3,-0.25 4.9,-0.25C7.5,-0.25 8.55,-2.8 8.55,-5.9C8.55,-9 7.5,-11.55 4.9,-11.55Z"/><path transform="translate(34.90,0)" d="M4.9,-11.55C2.3,-11.55 1.25,-9 1.25,-5.9C1.25,-2.8 2.3,-0.25 4.9,-0.25C7.5,-0.25 8.55,-2.8 8.55,-5.9C8.55,-9 7.5,-11.55 4.9,-11.55Z"/><path transform="translate(50.20,0)" d="M4.9,-11.55C2.3,-11.55 1.25,-9 1.25,-5.9C1.25,-2.8 2.3,-0.25 4.9,-0.25C7.5,-0.25 8.55,-2.8 8.55,-5.9C8.55,-9 7.5,-11.55 4.9,-11.55Z"/><path transform="translate(60.00,0)" d="M4.9,-11.55C2.3,-11.55 1.25,-9 1.25,-5.9C1.25,-2.8 2.3,-0.25 4.9,-0.25C7.5,-0.25 8.55,-2.8 8.55,-5.9C8.55,-9 7.5,-11.55 4.9,-11.55Z"/></g><g fill="#000" stroke="none"><rect x="21.70" y="-8.1" width="1.5" height="1.5"/><rect x="21.70" y="-1.5" width="1.5" height="1.5"/><rect x="46.80" y="-8.1" width="1.5" height="1.5"/><rect x="46.80" y="-1.5" width="1.5" height="1.5"/></g></g>
<g transform="translate(311.10,397.70) rotate(80)"><g fill="none" stroke="#000" stroke-width="1.38" stroke-linejoin="round"><path transform="translate(0.00,0)" d="M1.3,-8.9C1.5,-10.6 2.9,-11.55 4.8,-11.55C6.9,-11.55 8.3,-10.4 8.3,-8.6C8.3,-6.6 6.6,-5.2 1.2,-0.65H8.9"/><path transform="translate(9.80,0)" d="M1.3,-9.6C1.9,-10.9 3.1,-11.55 4.7,-11.55C6.8,-11.55 8.1,-10.5 8.1,-8.9C8.1,-7.2 6.8,-6.25 4.3,-6.25C7,-6.25 8.6,-5.1 8.6,-3.2C8.6,-1.3 7.1,-0.25 4.8,-0.25C2.9,-0.25 1.6,-1 0.9,-2.4"/><path transform="translate(25.10,0)" d="M1.7,-9.85L4.85,-11.5 M4.85,-11.9V0"/><path transform="translate(34.90,0)" d="M8.2,-11.25H2.4L1.8,-6.2C2.6,-6.9 3.7,-7.3 4.9,-7.3C7.2,-7.3 8.7,-5.9 8.7,-3.8C8.7,-1.6 7.2,-0.25 4.8,-0.25C3,-0.25 1.7,-0.9 0.9,-2.2"/><path transform="translate(50.20,0)" d="M4.9,-11.55C2.3,-11.55 1.25,-9 1.25,-5.9C1.25,-2.8 2.3,-0.25 4.9,-0.25C7.5,-0.25 8.55,-2.8 8.55,-5.9C8.55,-9 7.5,-11.55 4.9,-11.55Z"/><path transform="translate(60.00,0)" d="M4.9,-11.55C2.3,-11.55 1.25,-9 1.25,-5.9C1.25,-2.8 2.3,-0.25 4.9,-0.25C7.5,-0.25 8.55,-2.8 8.55,-5.9C8.55,-9 7.5,-11.55 4.9,-11.55Z"/></g><g fill="#000" stroke="none"><rect x="21.70" y="-8.1" width="1.5" height="1.5"/><rect x="21.70" y="-1.5" width="1.5" height="1.5"/><rect x="46.80" y="-8.1" width="1.5" height="1.5"/><rect x="46.80" y="-1.5" width="1.5" height="1.5"/></g></g>
<g transform="translate(360.10,397.70) rotate(80)"><g fill="none" stroke="#000" stroke-width="1.38" stroke-linejoin="round"><path transform="translate(0.00,0)" d="M1.3,-8.9C1.5,-10.6 2.9,-11.55 4.8,-11.55C6.9,-11.55 8.3,-10.4 8.3,-8.6C8.3,-6.6 6.6,-5.2 1.2,-0.65H8.9"/><path transform="translate(9.80,0)" d="M1.3,-9.6C1.9,-10.9 3.1,-11.55 4.7,-11.55C6.8,-11.55 8.1,-10.5 8.1,-8.9C8.1,-7.2 6.8,-6.25 4.3,-6.25C7,-6.25 8.6,-5.1 8.6,-3.2C8.6,-1.3 7.1,-0.25 4.8,-0.25C2.9,-0.25 1.6,-1 0.9,-2.4"/><path transform="translate(25.10,0)" d="M1.3,-9.6C1.9,-10.9 3.1,-11.55 4.7,-11.55C6.8,-11.55 8.1,-10.5 8.1,-8.9C8.1,-7.2 6.8,-6.25 4.3,-6.25C7,-6.25 8.6,-5.1 8.6,-3.2C8.6,-1.3 7.1,-0.25 4.8,-0.25C2.9,-0.25 1.6,-1 0.9,-2.4"/><path transform="translate(34.90,0)" d="M4.9,-11.55C2.3,-11.55 1.25,-9 1.25,-5.9C1.25,-2.8 2.3,-0.25 4.9,-0.25C7.5,-0.25 8.55,-2.8 8.55,-5.9C8.55,-9 7.5,-11.55 4.9,-11.55Z"/><path transform="translate(50.20,0)" d="M4.9,-11.55C2.3,-11.55 1.25,-9 1.25,-5.9C1.25,-2.8 2.3,-0.25 4.9,-0.25C7.5,-0.25 8.55,-2.8 8.55,-5.9C8.55,-9 7.5,-11.55 4.9,-11.55Z"/><path transform="translate(60.00,0)" d="M4.9,-11.55C2.3,-11.55 1.25,-9 1.25,-5.9C1.25,-2.8 2.3,-0.25 4.9,-0.25C7.5,-0.25 8.55,-2.8 8.55,-5.9C8.55,-9 7.5,-11.55 4.9,-11.55Z"/></g><g fill="#000" stroke="none"><rect x="21.70" y="-8.1" width="1.5" height="1.5"/><rect x="21.70" y="-1.5" width="1.5" height="1.5"/><rect x="46.80" y="-8.1" width="1.5" height="1.5"/><rect x="46.80" y="-1.5" width="1.5" height="1.5"/></g></g>
<g transform="translate(409.10,397.70) rotate(80)"><g fill="none" stroke="#000" stroke-width="1.38" stroke-linejoin="round"><path transform="translate(0.00,0)" d="M1.3,-8.9C1.5,-10.6 2.9,-11.55 4.8,-11.55C6.9,-11.55 8.3,-10.4 8.3,-8.6C8.3,-6.6 6.6,-5.2 1.2,-0.65H8.9"/><path transform="translate(9.80,0)" d="M1.3,-9.6C1.9,-10.9 3.1,-11.55 4.7,-11.55C6.8,-11.55 8.1,-10.5 8.1,-8.9C8.1,-7.2 6.8,-6.25 4.3,-6.25C7,-6.25 8.6,-5.1 8.6,-3.2C8.6,-1.3 7.1,-0.25 4.8,-0.25C2.9,-0.25 1.6,-1 0.9,-2.4"/><path transform="translate(25.10,0)" d="M7.35,0V-11.9 M7.6,-11.6L0.5,-3.4H9.85"/><path transform="translate(34.90,0)" d="M8.2,-11.25H2.4L1.8,-6.2C2.6,-6.9 3.7,-7.3 4.9,-7.3C7.2,-7.3 8.7,-5.9 8.7,-3.8C8.7,-1.6 7.2,-0.25 4.8,-0.25C3,-0.25 1.7,-0.9 0.9,-2.2"/><path transform="translate(50.20,0)" d="M4.9,-11.55C2.3,-11.55 1.25,-9 1.25,-5.9C1.25,-2.8 2.3,-0.25 4.9,-0.25C7.5,-0.25 8.55,-2.8 8.55,-5.9C8.55,-9 7.5,-11.55 4.9,-11.55Z"/><path transform="translate(60.00,0)" d="M4.9,-11.55C2.3,-11.55 1.25,-9 1.25,-5.9C1.25,-2.8 2.3,-0.25 4.9,-0.25C7.5,-0.25 8.55,-2.8 8.55,-5.9C8.55,-9 7.5,-11.55 4.9,-11.55Z"/></g><g fill="#000" stroke="none"><rect x="21.70" y="-8.1" width="1.5" height="1.5"/><rect x="21.70" y="-1.5" width="1.5" height="1.5"/><rect x="46.80" y="-8.1" width="1.5" height="1.5"/><rect x="46.80" y="-1.5" width="1.5" height="1.5"/></g></g>
<g transform="translate(458.10,397.70) rotate(80)"><g fill="none" stroke="#000" stroke-width="1.38" stroke-linejoin="round"><path transform="translate(0.00,0)" d="M4.9,-11.55C2.3,-11.55 1.25,-9 1.25,-5.9C1.25,-2.8 2.3,-0.25 4.9,-0.25C7.5,-0.25 8.55,-2.8 8.55,-5.9C8.55,-9 7.5,-11.55 4.9,-11.55Z"/><path transform="translate(9.80,0)" d="M4.9,-11.55C2.3,-11.55 1.25,-9 1.25,-5.9C1.25,-2.8 2.3,-0.25 4.9,-0.25C7.5,-0.25 8.55,-2.8 8.55,-5.9C8.55,-9 7.5,-11.55 4.9,-11.55Z"/><path transform="translate(25.10,0)" d="M4.9,-11.55C2.3,-11.55 1.25,-9 1.25,-5.9C1.25,-2.8 2.3,-0.25 4.9,-0.25C7.5,-0.25 8.55,-2.8 8.55,-5.9C8.55,-9 7.5,-11.55 4.9,-11.55Z"/><path transform="translate(34.90,0)" d="M4.9,-11.55C2.3,-11.55 1.25,-9 1.25,-5.9C1.25,-2.8 2.3,-0.25 4.9,-0.25C7.5,-0.25 8.55,-2.8 8.55,-5.9C8.55,-9 7.5,-11.55 4.9,-11.55Z"/><path transform="translate(50.20,0)" d="M4.9,-11.55C2.3,-11.55 1.25,-9 1.25,-5.9C1.25,-2.8 2.3,-0.25 4.9,-0.25C7.5,-0.25 8.55,-2.8 8.55,-5.9C8.55,-9 7.5,-11.55 4.9,-11.55Z"/><path transform="translate(60.00,0)" d="M4.9,-11.55C2.3,-11.55 1.25,-9 1.25,-5.9C1.25,-2.8 2.3,-0.25 4.9,-0.25C7.5,-0.25 8.55,-2.8 8.55,-5.9C8.55,-9 7.5,-11.55 4.9,-11.55Z"/></g><g fill="#000" stroke="none"><rect x="21.70" y="-8.1" width="1.5" height="1.5"/><rect x="21.70" y="-1.5" width="1.5" height="1.5"/><rect x="46.80" y="-8.1" width="1.5" height="1.5"/><rect x="46.80" y="-1.5" width="1.5" height="1.5"/></g></g>
<g transform="translate(507.10,397.70) rotate(80)"><g fill="none" stroke="#000" stroke-width="1.38" stroke-linejoin="round"><path transform="translate(0.00,0)" d="M4.9,-11.55C2.3,-11.55 1.25,-9 1.25,-5.9C1.25,-2.8 2.3,-0.25 4.9,-0.25C7.5,-0.25 8.55,-2.8 8.55,-5.9C8.55,-9 7.5,-11.55 4.9,-11.55Z"/><path transform="translate(9.80,0)" d="M4.9,-11.55C2.3,-11.55 1.25,-9 1.25,-5.9C1.25,-2.8 2.3,-0.25 4.9,-0.25C7.5,-0.25 8.55,-2.8 8.55,-5.9C8.55,-9 7.5,-11.55 4.9,-11.55Z"/><path transform="translate(25.10,0)" d="M1.7,-9.85L4.85,-11.5 M4.85,-11.9V0"/><path transform="translate(34.90,0)" d="M8.2,-11.25H2.4L1.8,-6.2C2.6,-6.9 3.7,-7.3 4.9,-7.3C7.2,-7.3 8.7,-5.9 8.7,-3.8C8.7,-1.6 7.2,-0.25 4.8,-0.25C3,-0.25 1.7,-0.9 0.9,-2.2"/><path transform="translate(50.20,0)" d="M4.9,-11.55C2.3,-11.55 1.25,-9 1.25,-5.9C1.25,-2.8 2.3,-0.25 4.9,-0.25C7.5,-0.25 8.55,-2.8 8.55,-5.9C8.55,-9 7.5,-11.55 4.9,-11.55Z"/><path transform="translate(60.00,0)" d="M4.9,-11.55C2.3,-11.55 1.25,-9 1.25,-5.9C1.25,-2.8 2.3,-0.25 4.9,-0.25C7.5,-0.25 8.55,-2.8 8.55,-5.9C8.55,-9 7.5,-11.55 4.9,-11.55Z"/></g><g fill="#000" stroke="none"><rect x="21.70" y="-8.1" width="1.5" height="1.5"/><rect x="21.70" y="-1.5" width="1.5" height="1.5"/><rect x="46.80" y="-8.1" width="1.5" height="1.5"/><rect x="46.80" y="-1.5" width="1.5" height="1.5"/></g></g>
<g transform="translate(556.10,397.70) rotate(80)"><g fill="none" stroke="#000" stroke-width="1.38" stroke-linejoin="round"><path transform="translate(0.00,0)" d="M4.9,-11.55C2.3,-11.55 1.25,-9 1.25,-5.9C1.25,-2.8 2.3,-0.25 4.9,-0.25C7.5,-0.25 8.55,-2.8 8.55,-5.9C8.55,-9 7.5,-11.55 4.9,-11.55Z"/><path transform="translate(9.80,0)" d="M4.9,-11.55C2.3,-11.55 1.25,-9 1.25,-5.9C1.25,-2.8 2.3,-0.25 4.9,-0.25C7.5,-0.25 8.55,-2.8 8.55,-5.9C8.55,-9 7.5,-11.55 4.9,-11.55Z"/><path transform="translate(25.10,0)" d="M1.3,-9.6C1.9,-10.9 3.1,-11.55 4.7,-11.55C6.8,-11.55 8.1,-10.5 8.1,-8.9C8.1,-7.2 6.8,-6.25 4.3,-6.25C7,-6.25 8.6,-5.1 8.6,-3.2C8.6,-1.3 7.1,-0.25 4.8,-0.25C2.9,-0.25 1.6,-1 0.9,-2.4"/><path transform="translate(34.90,0)" d="M4.9,-11.55C2.3,-11.55 1.25,-9 1.25,-5.9C1.25,-2.8 2.3,-0.25 4.9,-0.25C7.5,-0.25 8.55,-2.8 8.55,-5.9C8.55,-9 7.5,-11.55 4.9,-11.55Z"/><path transform="translate(50.20,0)" d="M4.9,-11.55C2.3,-11.55 1.25,-9 1.25,-5.9C1.25,-2.8 2.3,-0.25 4.9,-0.25C7.5,-0.25 8.55,-2.8 8.55,-5.9C8.55,-9 7.5,-11.55 4.9,-11.55Z"/><path transform="translate(60.00,0)" d="M4.9,-11.55C2.3,-11.55 1.25,-9 1.25,-5.9C1.25,-2.8 2.3,-0.25 4.9,-0.25C7.5,-0.25 8.55,-2.8 8.55,-5.9C8.55,-9 7.5,-11.55 4.9,-11.55Z"/></g><g fill="#000" stroke="none"><rect x="21.70" y="-8.1" width="1.5" height="1.5"/><rect x="21.70" y="-1.5" width="1.5" height="1.5"/><rect x="46.80" y="-8.1" width="1.5" height="1.5"/><rect x="46.80" y="-1.5" width="1.5" height="1.5"/></g></g>
<g transform="translate(605.10,397.70) rotate(80)"><g fill="none" stroke="#000" stroke-width="1.38" stroke-linejoin="round"><path transform="translate(0.00,0)" d="M4.9,-11.55C2.3,-11.55 1.25,-9 1.25,-5.9C1.25,-2.8 2.3,-0.25 4.9,-0.25C7.5,-0.25 8.55,-2.8 8.55,-5.9C8.55,-9 7.5,-11.55 4.9,-11.55Z"/><path transform="translate(9.80,0)" d="M4.9,-11.55C2.3,-11.55 1.25,-9 1.25,-5.9C1.25,-2.8 2.3,-0.25 4.9,-0.25C7.5,-0.25 8.55,-2.8 8.55,-5.9C8.55,-9 7.5,-11.55 4.9,-11.55Z"/><path transform="translate(25.10,0)" d="M7.35,0V-11.9 M7.6,-11.6L0.5,-3.4H9.85"/><path transform="translate(34.90,0)" d="M8.2,-11.25H2.4L1.8,-6.2C2.6,-6.9 3.7,-7.3 4.9,-7.3C7.2,-7.3 8.7,-5.9 8.7,-3.8C8.7,-1.6 7.2,-0.25 4.8,-0.25C3,-0.25 1.7,-0.9 0.9,-2.2"/><path transform="translate(50.20,0)" d="M4.9,-11.55C2.3,-11.55 1.25,-9 1.25,-5.9C1.25,-2.8 2.3,-0.25 4.9,-0.25C7.5,-0.25 8.55,-2.8 8.55,-5.9C8.55,-9 7.5,-11.55 4.9,-11.55Z"/><path transform="translate(60.00,0)" d="M4.9,-11.55C2.3,-11.55 1.25,-9 1.25,-5.9C1.25,-2.8 2.3,-0.25 4.9,-0.25C7.5,-0.25 8.55,-2.8 8.55,-5.9C8.55,-9 7.5,-11.55 4.9,-11.55Z"/></g><g fill="#000" stroke="none"><rect x="21.70" y="-8.1" width="1.5" height="1.5"/><rect x="21.70" y="-1.5" width="1.5" height="1.5"/><rect x="46.80" y="-8.1" width="1.5" height="1.5"/><rect x="46.80" y="-1.5" width="1.5" height="1.5"/></g></g>
<g fill="none" stroke="#000" stroke-width="1.30" stroke-linecap="butt" stroke-linejoin="miter">
<path transform="translate(470.00,20.60)" stroke-width="1.30" d="M0.8,0.4H10.2V9 M0,8.6H10.2"/>
<path transform="translate(484.00,18.50)" stroke-width="1.30" d="M10.7,0Q7.5,7 0,11.25 M2.8,3.4L10.1,9"/>
<path transform="translate(496.40,19.10)" stroke-width="1.30" d="M0,0.7L3.4,3.5 M0.35,10.7Q7.5,8.5 11,0.6"/>
<path transform="translate(511.60,18.50)" stroke-width="1.30" d="M0.6,0V12 M0.6,3L6.8,7.5"/>
<path transform="translate(521.20,18.10)" stroke-width="1.05" d="M3.3,0V6.3 M0,3.2H6.8 M0.9,0.6L1.8,2.2 M5.8,0.4L4.9,2.2 M3.1,3.4L0.2,6 M3.5,3.4L6.6,5.6 M0,8.8H7 M3,6.6L1.4,10.2L5.6,13.2 M5.3,7.2L4.2,11L0.4,13.6 M9.4,0L7.9,4.6 M8.8,3H14 M12,3.2Q11.6,9 7.4,13.8 M8.9,5.4Q10.2,10.5 14,13.6"/>
<path transform="translate(0.00,0.00)" stroke-width="1.05" d="M452.8,35.5H466.9 M457,33.1V37.3 M462.65,33.1V37.3 M455.6,41.5V38.5H464.6V41.5 M452.5,41.5H467 M460.1,36.5V41.5 M460.1,41.5Q458.3,44.6 453.6,46.4 M460.1,41.5Q462,44.6 466.4,46.1"/>
<path transform="translate(0.00,0.00)" stroke-width="1.05" d="M470,33.5H473.2 M469.1,35.6H473.8 M470,37.9H473.2 M470,40.2H473.2 M469.8,42.6H473.1V46.3H469.8Z M474.8,33.5H482.9 M477.6,33.5L477.2,39 M475.6,36.5H481.4L481.1,39 M474.2,39H483.2 M475.4,41.5H482V46.3H475.4Z"/>
<path transform="translate(485.60,35.80)" stroke-width="1.30" d="M0.8,0.4H10.2V9 M0,8.6H10.2"/>
<path transform="translate(499.60,33.70)" stroke-width="1.30" d="M10.7,0Q7.5,7 0,11.25 M2.8,3.4L10.1,9"/>
<path transform="translate(512.00,34.30)" stroke-width="1.30" d="M0,0.7L3.4,3.5 M0.35,10.7Q7.5,8.5 11,0.6"/>
<path transform="translate(527.00,33.20)" stroke-width="1.30" d="M0.6,0V12.7 M0.6,3.2L6.8,7.7"/>
<path transform="translate(4.90,153.10) rotate(-90)" stroke-width="1.05" d="M3.3,0V6.3 M0,3.2H6.8 M0.9,0.6L1.8,2.2 M5.8,0.4L4.9,2.2 M3.1,3.4L0.2,6 M3.5,3.4L6.6,5.6 M0,8.8H7 M3,6.6L1.4,10.2L5.6,13.2 M5.3,7.2L4.2,11L0.4,13.6 M9.4,0L7.9,4.6 M8.8,3H14 M12,3.2Q11.6,9 7.4,13.8 M8.9,5.4Q10.2,10.5 14,13.6"/>
<path transform="translate(4.90,162.90) rotate(-90)" stroke-width="1.30" d="M0.6,0V13.1 M0.6,5.3L6.7,8.8"/>
<path transform="translate(6.75,178.75) rotate(-90)" stroke-width="1.30" d="M0.6,0.4L4.1,3.1 M1.1,10.9Q8.2,8.8 11.2,2.3"/>
<path transform="translate(6.00,190.75) rotate(-90)" stroke-width="1.30" d="M9,0Q6.3,6.6 0.35,12 M2.25,3L9.35,9.4"/>
<path transform="translate(7.90,204.60) rotate(-90)" stroke-width="1.30" d="M0.8,0.4H10.2V9 M0,8.6H10.2"/>
<path transform="translate(7.10,220.50) rotate(-90)" stroke-width="1.30" d="M6.6,0.2C6.3,4.5 5.6,8 4.5,10.3 C2.2,10.8 0,8.6 0.1,6 C0.2,2.6 3.2,0.1 6.7,0 C10.5,0 13,2.5 13,5.5 C13,8.3 10.9,10.3 7.9,10.9"/>
<path transform="translate(4.10,236.75) rotate(-90)" stroke-width="1.05" d="M3.3,0L0.6,5.6 M2.2,2.3H13.6 M2.8,5.6H11.8 M2.8,5.6L2.4,12H11.5 M11.8,5.6L11.5,14.2Q11.4,14.8 10.4,14.7L8,14.5 M-0.3,8.5H14.5 M7.15,5.6V12"/>
<path transform="translate(4.90,252.90) rotate(-90)" stroke-width="1.05" d="M4.8,0.7L0.3,1.5 M-0.1,4.85H5.2 M3,1V14 M2.9,4.9L-0.1,10.8 M3.3,5.2L4.8,9 M10,0.35V7.5 M8.3,2.3L7.2,6 M11.8,2.3L13,4.4 M13.4,4.3Q12.3,10.8 6.65,13.85"/>
</g>
<path fill="none" stroke="#000" stroke-width="1.35" stroke-linejoin="round" transform="translate(16.9,262.25) rotate(-90)" d="M1.7,-8.9L4.85,-10.6 M4.85,-11V0"/>
</svg></body></html>
